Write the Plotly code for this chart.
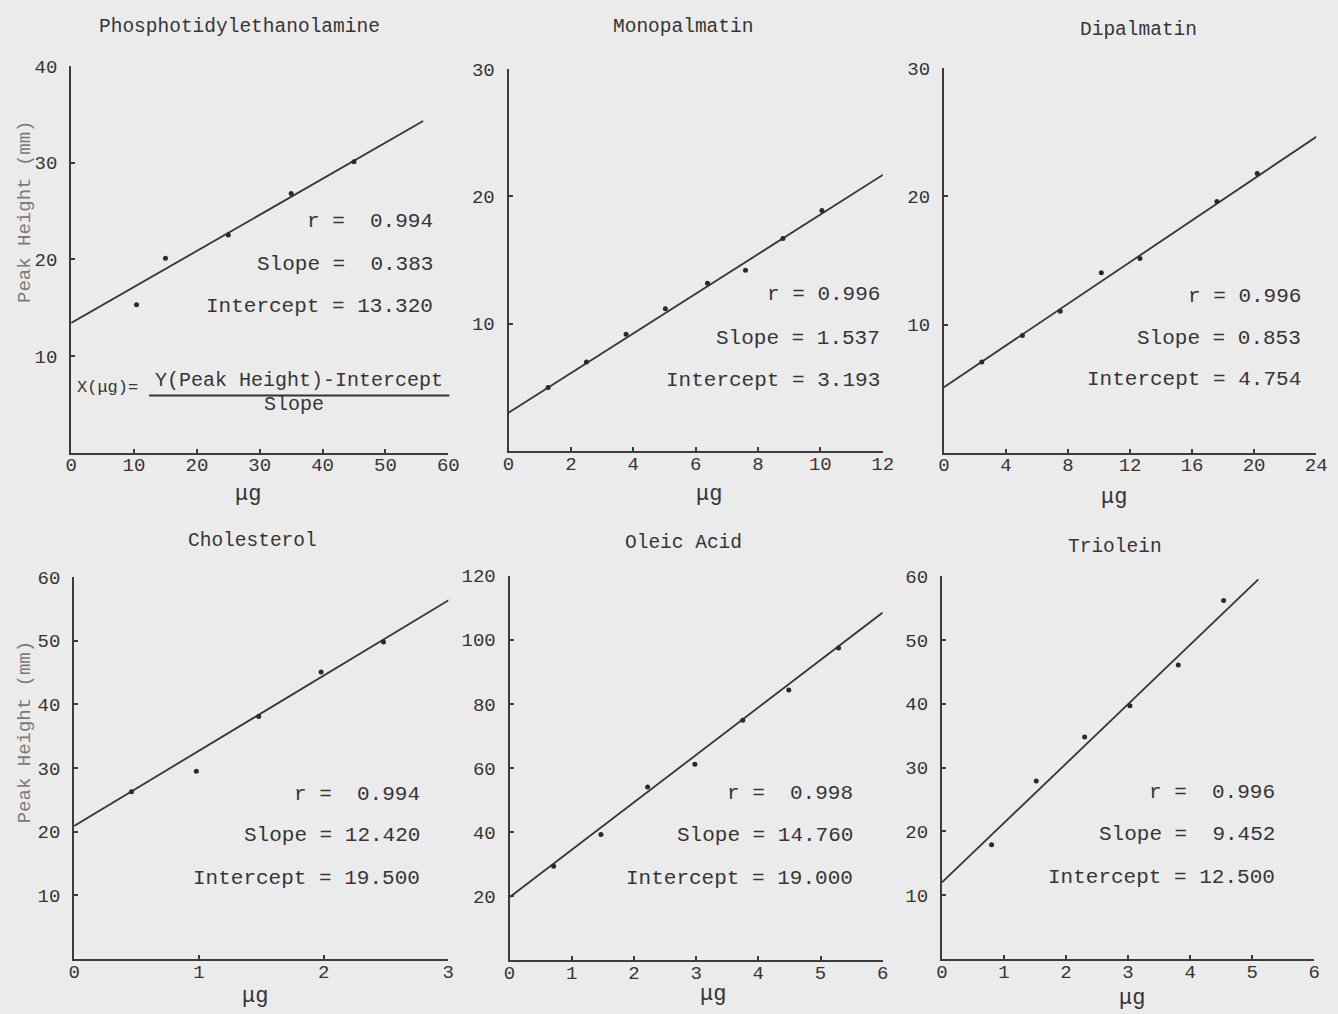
import plotly.graph_objects as go

W, H = 1338, 1014

# ---------------- data ----------------
titles = ["Phosphotidylethanolamine", "Monopalmatin", "Dipalmatin",
          "Cholesterol", "Oleic Acid", "Triolein"]

pe_x = [10.4, 15.0, 25.0, 35.0, 45.0]
pe_y = [15.3, 20.1, 22.5, 26.8, 30.1]
pe_line_x = [0, 56]
pe_line_y = [13.4, 34.3]

mono_x = [1.27, 2.5, 3.77, 5.03, 6.38, 7.6, 8.8, 10.05]
mono_y = [5.0, 7.0, 9.17, 11.17, 13.18, 14.2, 16.7, 18.9]
mono_line_x = [0, 12.1]
mono_line_y = [3.0, 21.85]

dipal_x = [2.44, 5.06, 7.5, 10.15, 12.64, 17.6, 20.2]
dipal_y = [7.08, 9.15, 11.03, 14.05, 15.16, 19.6, 21.8]
dipal_line_x = [0, 24.3]
dipal_line_y = [5.1, 24.9]

chol_x = [0.46, 0.98, 1.48, 1.98, 2.48]
chol_y = [26.3, 29.5, 38.1, 45.1, 49.8]
chol_line_x = [0, 3.03]
chol_line_y = [20.9, 56.7]

oleic_x = [0.71, 1.47, 2.22, 2.98, 3.75, 4.49, 5.29]
oleic_y = [29.4, 39.3, 54.1, 61.2, 74.9, 84.3, 97.4]
oleic_line_x = [0, 6.0]
oleic_line_y = [19.7, 108.5]

triol_x = [0.8, 1.52, 2.3, 3.03, 3.81, 4.54]
triol_y = [17.9, 27.9, 34.8, 39.7, 46.1, 56.2]
triol_line_x = [0, 5.1]
triol_line_y = [12.0, 59.5]

stats = [
    ["r =  0.994", "Slope =  0.383", "Intercept = 13.320"],
    ["r = 0.996", "Slope = 1.537", "Intercept = 3.193"],
    ["r = 0.996", "Slope = 0.853", "Intercept = 4.754"],
    ["r =  0.994", "Slope = 12.420", "Intercept = 19.500"],
    ["r =  0.998", "Slope = 14.760", "Intercept = 19.000"],
    ["r =  0.996", "Slope =  9.452", "Intercept = 12.500"],
]

x_ticks = [
    [0, 10, 20, 30, 40, 50, 60],
    [0, 2, 4, 6, 8, 10, 12],
    [0, 4, 8, 12, 16, 20, 24],
    [0, 1, 2, 3],
    [0, 1, 2, 3, 4, 5, 6],
    [0, 1, 2, 3, 4, 5, 6],
]
y_ticks = [
    [10, 20, 30, 40],
    [10, 20, 30],
    [10, 20, 30],
    [10, 20, 30, 40, 50, 60],
    [20, 40, 60, 80, 100, 120],
    [10, 20, 30, 40, 50, 60],
]
x_ranges = [[0, 60], [0, 12], [0, 24], [0, 3], [0, 6], [0, 6]]
y_ranges = [[0, 40], [0, 30], [0, 30], [0, 60], [0, 120], [0, 60]]

y_label = "Peak Height (mm)"
x_label = "μg"
formula_left = "X(μg)="
formula_num = "Y(Peak Height)-Intercept"
formula_den = "Slope"

points = [(pe_x, pe_y), (mono_x, mono_y), (dipal_x, dipal_y),
          (chol_x, chol_y), (oleic_x, oleic_y), (triol_x, triol_y)]
lines = [(pe_line_x, pe_line_y), (mono_line_x, mono_line_y),
         (dipal_line_x, dipal_line_y), (chol_line_x, chol_line_y),
         (oleic_line_x, oleic_line_y), (triol_line_x, triol_line_y)]

# ---------------- layout helpers (pixel -> paper) ----------------
def px(x):
    return x / W

def py(y):
    return 1 - y / H

# plot boxes in pixels: (left, right, top, bottom)
boxes = [
    (66, 448, 57.5, 447.5),
    (509, 888, 60.7, 446),
    (950, 1327, 60, 447.5),
    (69, 448, 573.3, 958.5),
    (510, 888, 571.7, 960),
    (948, 1325, 572.3, 958.5),
]
title_pos = [(236, 18), (686, 18), (1147, 21), (250, 537), (686, 539), (1123, 543)]
xlabel_pos = [(245, 490), (712, 490), (1122, 493), (252, 996), (716, 994), (1140, 998)]
stats_pos = [(435, [214, 258, 300]), (887, [288, 332, 375]), (1314, [290, 332, 374]),
             (421, [793, 834, 877]), (860, [792, 834, 877]), (1287, [791, 833, 876])]

BG = "#ebebeb"
INK = "#353535"
FONT = "Liberation Mono, Courier New, monospace"

fig = go.Figure()
annotations = []
shapes = []
layout_axes = {}

for i in range(6):
    n = i + 1
    xa = "x" if n == 1 else f"x{n}"
    ya = "y" if n == 1 else f"y{n}"
    l, r, t, b = boxes[i]
    lx, ly = lines[i]
    fig.add_trace(go.Scatter(x=lx, y=ly, mode="lines", xaxis=xa, yaxis=ya,
                             line=dict(color=INK, width=1.8), showlegend=False,
                             hoverinfo="skip"))
    pxs, pys = points[i]
    fig.add_trace(go.Scatter(x=pxs, y=pys, mode="markers", xaxis=xa, yaxis=ya,
                             marker=dict(color="#2a2a2a", size=5), showlegend=False))
    axis_common = dict(showline=True, linecolor="#3c3c3c", linewidth=2,
                       showgrid=False, zeroline=False, ticks="inside", ticklen=4,
                       tickwidth=1.5, tickcolor="#3c3c3c",
                       tickfont=dict(family=FONT, size=19, color=INK))
    layout_axes["xaxis" if n == 1 else f"xaxis{n}"] = dict(
        domain=[px(l), px(r)], range=x_ranges[i], tickmode="array",
        tickvals=x_ticks[i], anchor=ya, ticklabelstandoff=-6, **axis_common)
    layout_axes["yaxis" if n == 1 else f"yaxis{n}"] = dict(
        domain=[py(b), py(t)], range=y_ranges[i], tickmode="array",
        tickvals=y_ticks[i], anchor=xa, ticklabelstandoff=8, **axis_common)

    tx, ty = title_pos[i]
    annotations.append(dict(text=titles[i], x=px(tx), y=py(ty), xref="paper", yref="paper",
                            showarrow=False, xanchor="center", yanchor="middle",
                            font=dict(family=FONT, size=19.5, color=INK)))
    lx_, ly_ = xlabel_pos[i]
    annotations.append(dict(text=x_label, x=px(lx_), y=py(ly_), xref="paper", yref="paper",
                            showarrow=False, xanchor="center", yanchor="middle",
                            font=dict(family=FONT, size=22, color=INK)))
    sx, sys_ = stats_pos[i]
    for txt, yy in zip(stats[i], sys_):
        annotations.append(dict(text=txt, x=px(sx), y=py(yy), xref="paper", yref="paper",
                                showarrow=False, xanchor="right", yanchor="middle",
                                font=dict(family=FONT, size=21, color=INK)))

# y axis labels (rotated) for left column
for yc in [(205), (730)]:
    annotations.append(dict(text=y_label, x=px(19), y=py(yc), xref="paper", yref="paper",
                            showarrow=False, textangle=-90, xanchor="center", yanchor="middle",
                            font=dict(family=FONT, size=19, color="#7a7a7a")))

# formula in first panel
annotations.append(dict(text=formula_left, x=px(70), y=py(382), xref="paper", yref="paper",
                        showarrow=False, xanchor="left", yanchor="middle",
                        font=dict(family=FONT, size=17, color=INK)))
annotations.append(dict(text=formula_num, x=px(297), y=py(375), xref="paper", yref="paper",
                        showarrow=False, xanchor="center", yanchor="middle",
                        font=dict(family=FONT, size=20, color=INK)))
annotations.append(dict(text=formula_den, x=px(292), y=py(399), xref="paper", yref="paper",
                        showarrow=False, xanchor="center", yanchor="middle",
                        font=dict(family=FONT, size=20, color=INK)))
shapes.append(dict(type="line", xref="paper", yref="paper",
                   x0=px(145), x1=px(449), y0=py(390), y1=py(390),
                   line=dict(color=INK, width=2)))

fig.update_layout(width=W, height=H, margin=dict(l=0, r=0, t=0, b=0),
                  paper_bgcolor=BG, plot_bgcolor=BG, annotations=annotations,
                  shapes=shapes, showlegend=False, **layout_axes)

fig.write_html("out.html", config={"displayModeBar": False},
               post_script="document.body.style.margin='0';document.body.style.background='#ebebeb';")
